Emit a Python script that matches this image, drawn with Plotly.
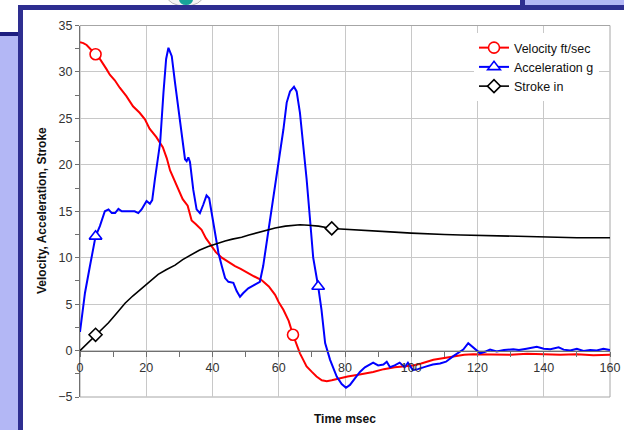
import plotly.graph_objects as go

# ---------------- data ----------------
vel_t = [0, 1, 2, 3, 4.7, 6, 8, 9, 10.5, 12, 14, 16, 18, 19.6, 21, 23, 25, 26.2, 27.2, 29,
         31, 32.5, 33.7, 35, 36.7, 38, 39.7, 41, 42.8, 44.5, 46.8, 48.5, 50.8, 52.5, 54.8,
         57, 58.9, 60, 61.4, 63, 64.3, 65.4, 66.4, 67.4, 68.4, 70, 71.4, 73, 74.5, 76, 78,
         80.8, 84, 88.5, 91.7, 95, 100.6, 103, 106.7, 110, 112.7, 116, 118.7, 125, 130,
         135, 140, 145, 150, 155, 160]
vel_v = [33.2, 33.1, 32.9, 32.5, 31.9, 31.4, 30.3, 29.7, 29.1, 28.3, 27.4, 26.3, 25.6, 24.9,
         23.9, 23.0, 21.9, 20.7, 19.4, 17.9, 16.3, 15.6, 14.0, 13.6, 13.0, 12.1, 11.2, 10.6,
         10.0, 9.6, 9.1, 8.8, 8.3, 8.0, 7.6, 6.9, 6.0, 5.2, 4.4, 3.2, 1.7, 0.6, -0.3, -1.0,
         -1.7, -2.3, -2.8, -3.2, -3.3, -3.2, -3.0, -2.8, -2.6, -2.3, -2.0, -1.8, -1.6, -1.4,
         -1.0, -0.8, -0.6, -0.45, -0.4, -0.4, -0.45, -0.35, -0.4, -0.45, -0.4, -0.5, -0.45]
vel_mark_t = [4.7, 64.3]

acc_t = [0, 1.5, 3, 4.7, 6, 7.5, 8.6, 9.6, 10.6, 11.6, 12.6, 14.6, 16.5, 17.6, 18.6, 19.6,
         20.1, 21.1, 21.8, 22.6, 23.6, 24.2, 25.2, 26.0, 26.7, 27.7, 28.7, 29.7, 30.7, 31.7,
         32.2, 32.7, 33.2, 34.2, 35.2, 36.2, 37.2, 38.2, 39.0, 39.7, 40.8, 41.8, 42.8, 43.8,
         44.8, 46.3, 47.3, 48.3, 49.3, 50.8, 52.8, 54.3, 55.3, 56.8, 58.3, 59.4, 60.4, 61.4,
         62.4, 63.4, 64.6, 65.4, 66.4, 67.4, 68.4, 69.4, 70.4, 71.9, 72.9, 74.0, 75.5, 77.5,
         79, 80.3, 81.5, 83, 84.5, 86, 87.5, 88.5, 90, 91.6, 92.6, 93.6, 95, 96.5, 98, 99,
         100.5, 102, 104.6, 106.5, 108.7, 110.5, 112.7, 114.5, 115.7, 117.2, 118.5, 119.7,
         120.8, 122.5, 123.8, 125.8, 128, 130.8, 132.5, 134.8, 137.9, 140, 142, 144.5, 146,
         148, 150, 152, 154, 156, 158, 160]
acc_v = [2.0, 6.2, 9.1, 12.3, 13.4, 15.0, 15.2, 14.8, 14.8, 15.25, 15.0, 15.0, 15.0, 14.8,
         15.2, 15.8, 16.1, 15.8, 16.2, 18.4, 20.8, 22.4, 27.8, 31.4, 32.6, 31.7, 28.8, 26.0,
         23.5, 20.6, 20.4, 20.8, 20.3, 17.3, 15.2, 14.8, 15.7, 16.7, 16.4, 14.8, 12.3, 10.5,
         9.1, 7.8, 7.4, 7.3, 6.4, 5.8, 6.2, 6.7, 7.1, 7.4, 9.1, 12.7, 16.3, 18.8, 21.6, 23.8,
         26.7, 27.9, 28.4, 27.9, 25.6, 22.3, 18.5, 14.3, 10.0, 6.9, 4.4, 0.8, -1.0, -2.8,
         -3.6, -4.0, -3.7, -3.0, -2.3, -1.8, -1.5, -1.3, -1.6, -1.5, -1.2, -1.8, -1.6, -1.3,
         -1.8, -1.3, -2.1, -2.0, -1.7, -1.5, -1.4, -1.2, -0.6, -0.2, 0.1, 0.8, 0.4, 0.0,
         -0.3, -0.1, 0.1, -0.1, 0.05, 0.15, 0.05, 0.2, 0.4, 0.2, 0.15, 0.35, 0.1, 0.0, 0.2,
         -0.05, 0.05, 0.0, 0.2, 0.05]
acc_mark_t = [4.7, 71.9]

str_t = [0, 2, 4.7, 6.5, 8.6, 11, 13.6, 16, 18.6, 21, 23.6, 26, 28.7, 31, 33.7, 36, 38.7, 41,
         43.8, 46, 48.8, 51, 53.8, 56, 58.9, 62, 64, 66.4, 69, 72, 76, 80, 85, 90, 95, 100,
         105, 110, 115, 120, 125, 130, 135, 140, 145, 150, 155, 160]
str_v = [0, 0.7, 1.7, 2.3, 3.0, 4.0, 5.1, 5.9, 6.7, 7.5, 8.2, 8.7, 9.2, 9.8, 10.3, 10.8, 11.2,
         11.5, 11.8, 12.0, 12.2, 12.45, 12.7, 12.95, 13.2, 13.4, 13.5, 13.55, 13.5, 13.4, 13.15,
         13.05, 12.95, 12.85, 12.75, 12.65, 12.55, 12.5, 12.45, 12.4, 12.35, 12.3, 12.25, 12.2,
         12.2, 12.15, 12.15, 12.15]
str_mark_t = [4.7, 76]

series_names = ["Velocity ft/sec", "Acceleration g", "Stroke in"]
x_title = "Time msec"
y_title = "Velocity, Acceleration, Stroke"
X_RANGE = [0, 160]
Y_RANGE = [-5, 35]

# ---------------- layout geometry ----------------
W, H = 624, 430
FONT = "Liberation Sans, Arial, sans-serif"


def PX(x):
    return x / W


def PY(y):
    return 1 - y / H


x_dom = [PX(80), PX(610)]
y_dom = [PY(397), PY(25.5)]
x_axis_pos = y_dom[0] + (0 - Y_RANGE[0]) / (Y_RANGE[1] - Y_RANGE[0]) * (y_dom[1] - y_dom[0])


def marker_pts(ts, vs, mts):
    xs, ys = [], []
    for m in mts:
        i = ts.index(m)
        if xs:
            xs.append(None)
            ys.append(None)
        xs.append(ts[i])
        ys.append(vs[i])
    return xs, ys


fig = go.Figure()
specs = [
    (vel_t, vel_v, vel_mark_t, "#ff0000", "circle", 11, 2),
    (acc_t, acc_v, acc_mark_t, "#0000ff", "triangle-up", 11, 2),
    (str_t, str_v, str_mark_t, "#000000", "diamond", 10, 1.6),
]
for (ts, vs, mts, col, sym, msize, lw), name in zip(specs, series_names):
    fig.add_trace(go.Scatter(x=ts, y=vs, mode="lines", line=dict(color=col, width=lw),
                             showlegend=False, hoverinfo="skip"))
for (ts, vs, mts, col, sym, msize, lw), name in zip(specs, series_names):
    mx, my = marker_pts(ts, vs, mts)
    fig.add_trace(go.Scatter(x=mx, y=my, mode="lines+markers", name=name, legendgroup=name,
                             line=dict(color=col, width=lw),
                             marker=dict(symbol=sym, size=msize, color="white",
                                         line=dict(color=col, width=1.6))))

NAVY = "#2e2e90"
LAV = "#b3b7f5"
shapes = [
    # left slide strip
    dict(type="rect", x0=PX(0), x1=PX(19), y0=PY(36), y1=PY(430), fillcolor=LAV, line_width=0),
    dict(type="rect", x0=PX(0), x1=PX(19), y0=PY(32), y1=PY(36), fillcolor="#1e1e80", line_width=0),
    # top right slide strip
    dict(type="rect", x0=PX(525), x1=PX(624), y0=PY(0), y1=PY(5), fillcolor=LAV, line_width=0),
    dict(type="rect", x0=PX(520), x1=PX(525), y0=PY(0), y1=PY(5.5), fillcolor=NAVY, line_width=0),
    # logo fragment
    dict(type="circle", x0=PX(167), x1=PX(203), y0=PY(6), y1=PY(-14), fillcolor="#f4f4f4",
         line=dict(color="#b8b8b8", width=1)),
    dict(type="circle", x0=PX(179), x1=PX(193), y0=PY(5), y1=PY(-6), fillcolor="#19a39a",
         line_width=0),
    # chart frame
    dict(type="rect", x0=PX(18), x1=PX(624), y0=PY(5), y1=PY(430), fillcolor=NAVY, line_width=0),
    dict(type="rect", x0=PX(23), x1=PX(624), y0=PY(10), y1=PY(430), fillcolor="white", line_width=0),
]
for s in shapes:
    s.update(xref="paper", yref="paper", layer="below")
# plot-area border
shapes.append(dict(type="rect", xref="x domain", yref="y domain", x0=0, x1=1, y0=0, y1=1,
                   line=dict(color="#a6a6a6", width=1), layer="below"))

fig.update_layout(
    template="none",
    width=W, height=H, autosize=False,
    margin=dict(l=0, r=0, t=0, b=0, pad=0, autoexpand=False),
    paper_bgcolor="white", plot_bgcolor="rgba(0,0,0,0)",
    font=dict(family=FONT, size=12, color="#222222"),
    shapes=shapes,
    showlegend=True,
    hovermode=False,
    legend=dict(x=PX(474), y=PY(33), xanchor="left", yanchor="top", bgcolor="white",
                borderwidth=0, font=dict(family=FONT, size=12.5, color="#111111"),
                itemwidth=30, tracegroupgap=4, traceorder="normal"),
    xaxis=dict(domain=x_dom, range=X_RANGE, dtick=20, tick0=0, anchor="free", position=x_axis_pos,
               automargin=False,
               showgrid=True, gridcolor="#c8c8c8", gridwidth=1, zeroline=False,
               showline=True, linecolor="#707070", linewidth=1,
               ticks="outside", ticklen=5, tickcolor="#707070",
               minor=dict(dtick=10, ticks="outside", ticklen=5, tickcolor="#707070", showgrid=False),
               tickfont=dict(family=FONT, size=12.5, color="#333333")),
    yaxis=dict(domain=y_dom, range=Y_RANGE, dtick=5, tick0=0,
               automargin=False,
               showgrid=True, gridcolor="#c8c8c8", gridwidth=1, zeroline=False,
               showline=True, linecolor="#707070", linewidth=1,
               ticks="outside", ticklen=4, tickcolor="#707070",
               minor=dict(dtick=2.5, ticks="outside", ticklen=4, tickcolor="#707070", showgrid=False),
               tickfont=dict(family=FONT, size=12.5, color="#333333")),
    annotations=[
        dict(text="<b>" + x_title + "</b>", xref="paper", yref="paper", x=PX(345), y=PY(419),
             showarrow=False, font=dict(family=FONT, size=12, color="#111111"),
             xanchor="center", yanchor="middle"),
        dict(text="<b>" + y_title + "</b>", xref="paper", yref="paper", x=PX(42), y=PY(211),
             showarrow=False, textangle=-90, font=dict(family=FONT, size=12, color="#111111"),
             xanchor="center", yanchor="middle"),
    ],
)

# remove the browser's default 8px page margin so the figure sits at the window origin
fig.write_html("out.html",
               config={"displayModeBar": False, "staticPlot": True},
               post_script="document.body.style.margin='0';document.body.style.overflow='hidden';")
